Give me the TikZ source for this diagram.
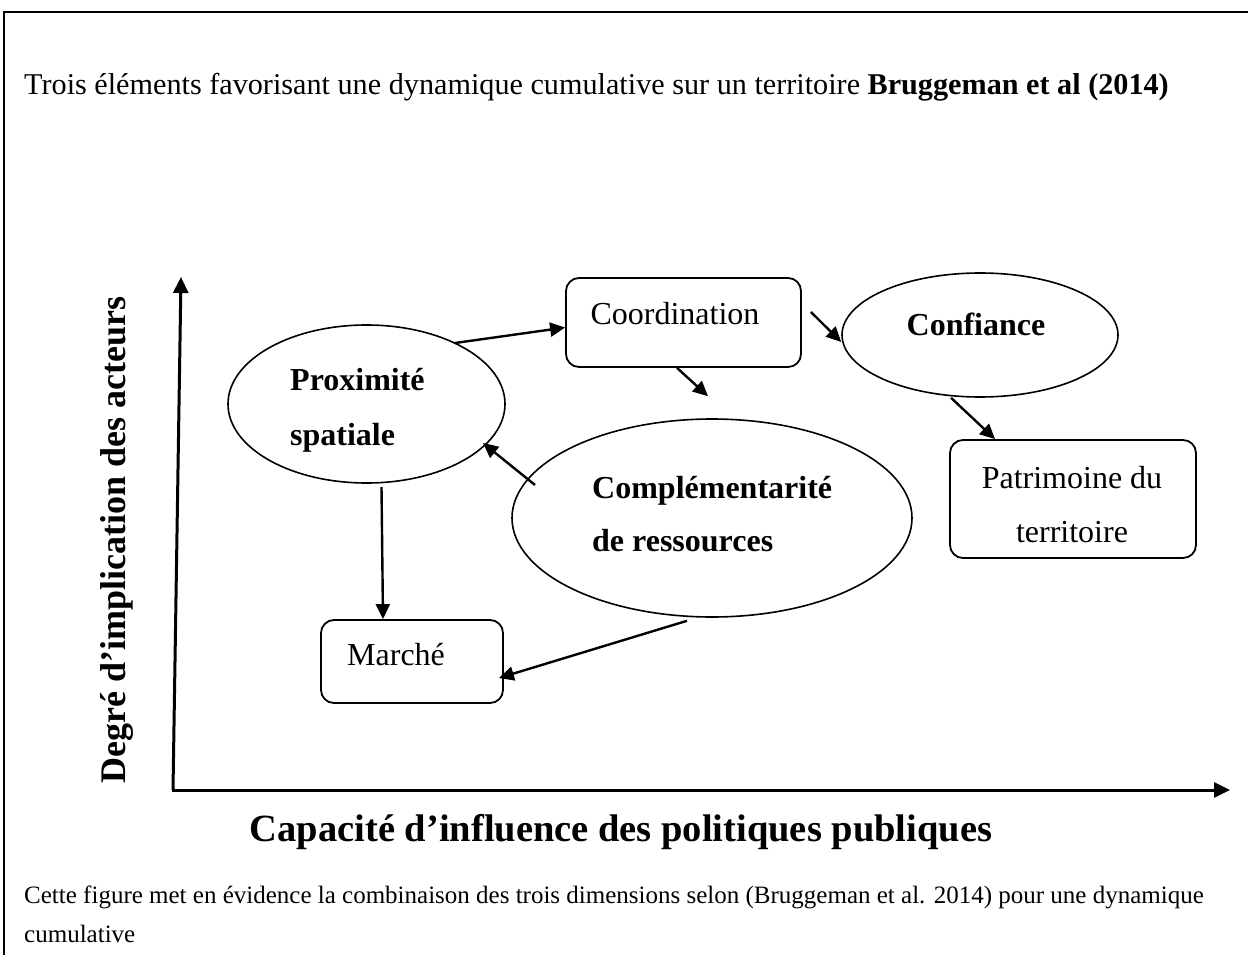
\documentclass[tikz,border=0pt]{standalone}
\usepackage{fontspec}
\setmainfont{Liberation Serif}
\usetikzlibrary{arrows.meta,shapes.geometric}
\begin{document}
\begin{tikzpicture}[x=1pt,y=-1pt,
  box/.style={draw,line width=1.8pt,rounded corners=13pt,inner sep=0pt},
  oval/.style={draw,ellipse,line width=1.6pt,inner sep=0pt},
  arr/.style={line width=2.4pt,-{Triangle[length=15pt,width=14pt]}},
  axisline/.style={line width=3pt,-{Triangle[length=16pt,width=15pt]}},
  lbl/.style={font=\fontsize{32}{38}\selectfont,inner sep=0pt},
  blbl/.style={font=\fontsize{32}{38}\selectfont\bfseries,inner sep=0pt},
  ttl/.style={font=\fontsize{30.2}{36}\selectfont,inner sep=0pt},
  captxt/.style={font=\fontsize{25}{30}\selectfont,inner sep=0pt},
  xaxlbl/.style={font=\fontsize{38.5}{44}\selectfont\bfseries,inner sep=0pt},
  yaxlbl/.style={font=\fontsize{36}{42}\selectfont\bfseries,inner sep=0pt},
]
\useasboundingbox (0,0) rectangle (1248,955);
% frame
\coordinate (fb) at (4,955);
\coordinate (fc) at (4,12);
\coordinate (fr) at (1248,12);
\draw[line width=2pt] (fb) -- (fc) -- (fr);

% title and caption
\node[ttl,anchor=base west] (title) at (24,95) {Trois éléments favorisant une dynamique cumulative sur un territoire \textbf{Bruggeman et al (2014)}};
\node[captxt,anchor=base west] (cap1) at (24,903) {Cette figure met en évidence la combinaison des trois dimensions selon (Bruggeman et al. 2014) pour une dynamique};
\node[captxt,anchor=base west] (cap2) at (24,942) {cumulative};

% axes
\coordinate (O) at (173,790);
\coordinate (Ytop) at (181,277);
\coordinate (Xstart) at (172,790);
\coordinate (Xend) at (1230,790);
\draw[axisline] (O) -- (Ytop);
\draw[axisline] (Xstart) -- (Xend);
\node[yaxlbl,rotate=90] (ylab) at (117,540) {Degré d’implication des acteurs};
\node[xaxlbl] (xlab) at (621,832) {Capacité d’influence des politiques publiques};

% shapes
\node[box,minimum width=235pt,minimum height=89pt] (coord) at (683.5,322.5) {};
\node[oval,minimum width=276pt,minimum height=124pt] (conf) at (980,335) {};
\node[oval,minimum width=277pt,minimum height=158pt] (prox) at (366.5,404) {};
\node[oval,minimum width=400pt,minimum height=198pt] (comp) at (712,518) {};
\node[box,minimum width=246pt,minimum height=118pt] (patr) at (1073,499) {};
\node[box,minimum width=182pt,minimum height=83pt] (march) at (412,661.5) {};

% texts
\node[lbl,anchor=base] (tcoord) at (675,324) {Coordination};
\node[blbl,anchor=base] (tconf) at (976,335) {Confiance};
\node[blbl,anchor=base west] (tprox1) at (290,390) {Proximité};
\node[blbl,anchor=base west] (tprox2) at (290,445) {spatiale};
\node[blbl,anchor=base west] (tcomp1) at (592,498) {Complémentarité};
\node[blbl,anchor=base west] (tcomp2) at (592,551) {de ressources};
\node[lbl,anchor=base] (tpatr1) at (1072,488) {Patrimoine du};
\node[lbl,anchor=base] (tpatr2) at (1072,542) {territoire};
\node[lbl,anchor=base west] (tmarch) at (347,665) {Marché};

% connectors
\draw[arr] ([shift={(88.5pt,61pt)}]prox.center) -- ([yshift=-5pt]coord.west);
\draw[arr] ([shift={(9pt,10.5pt)}]coord.east) -- ([yshift=-7pt]conf.west);
\draw[arr] ([xshift=-29pt]conf.south) -- ([xshift=-78pt]patr.north);
\draw[arr] ([xshift=-6.5pt]coord.south) -- ([shift={(-4pt,22pt)}]comp.north);
\draw[arr] ([shift={(-177pt,33pt)}]comp.center) -- ([shift={(116.5pt,-39pt)}]prox.center);
\draw[arr] ([shift={(15pt,-83pt)}]prox.center) -- ([xshift=-29pt]march.north);
\draw[arr] ([shift={(-25pt,-3pt)}]comp.south) -- ([shift={(-5pt,-16.5pt)}]march.east);
\end{tikzpicture}
\end{document}
